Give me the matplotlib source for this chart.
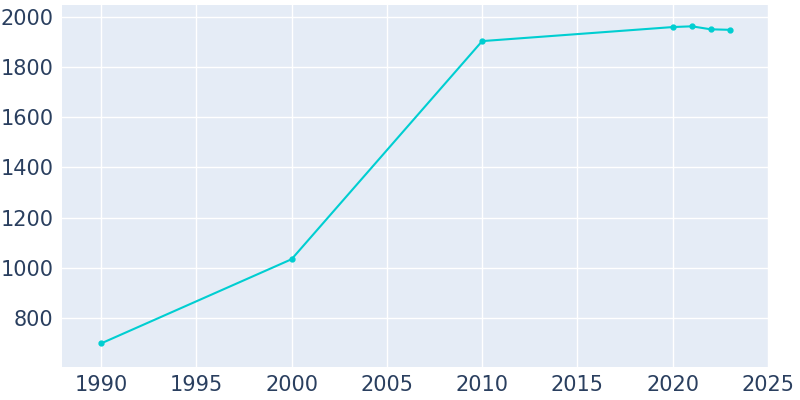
import matplotlib
matplotlib.use("Agg")
import matplotlib.pyplot as plt

years = [1990, 2000, 2010, 2020, 2021, 2022, 2023]
population = [698, 1034, 1904, 1960, 1963, 1951, 1949]
xticks = [1990, 1995, 2000, 2005, 2010, 2015, 2020, 2025]
yticks = [800, 1000, 1200, 1400, 1600, 1800, 2000]

fig = plt.figure(figsize=(8, 4), dpi=100)
ax = fig.add_axes([62/800, 1-367/400, (768-62)/800, (367-5)/400])
ax.set_facecolor("#E5ECF6")
ax.plot(years, population, color="#00CED1", lw=1.5, marker="o", ms=3.5)
ax.set_xlim(1987.95, 2025)
ax.set_ylim(604, 2048)
ax.set_xticks(xticks)
ax.set_yticks(yticks)
ax.grid(True, color="white", lw=1)
ax.set_axisbelow(True)
for s in ax.spines.values():
    s.set_visible(False)
ax.tick_params(length=0, labelsize=15, colors="#2a3f5f", pad=6)
fig.savefig("out.png")
